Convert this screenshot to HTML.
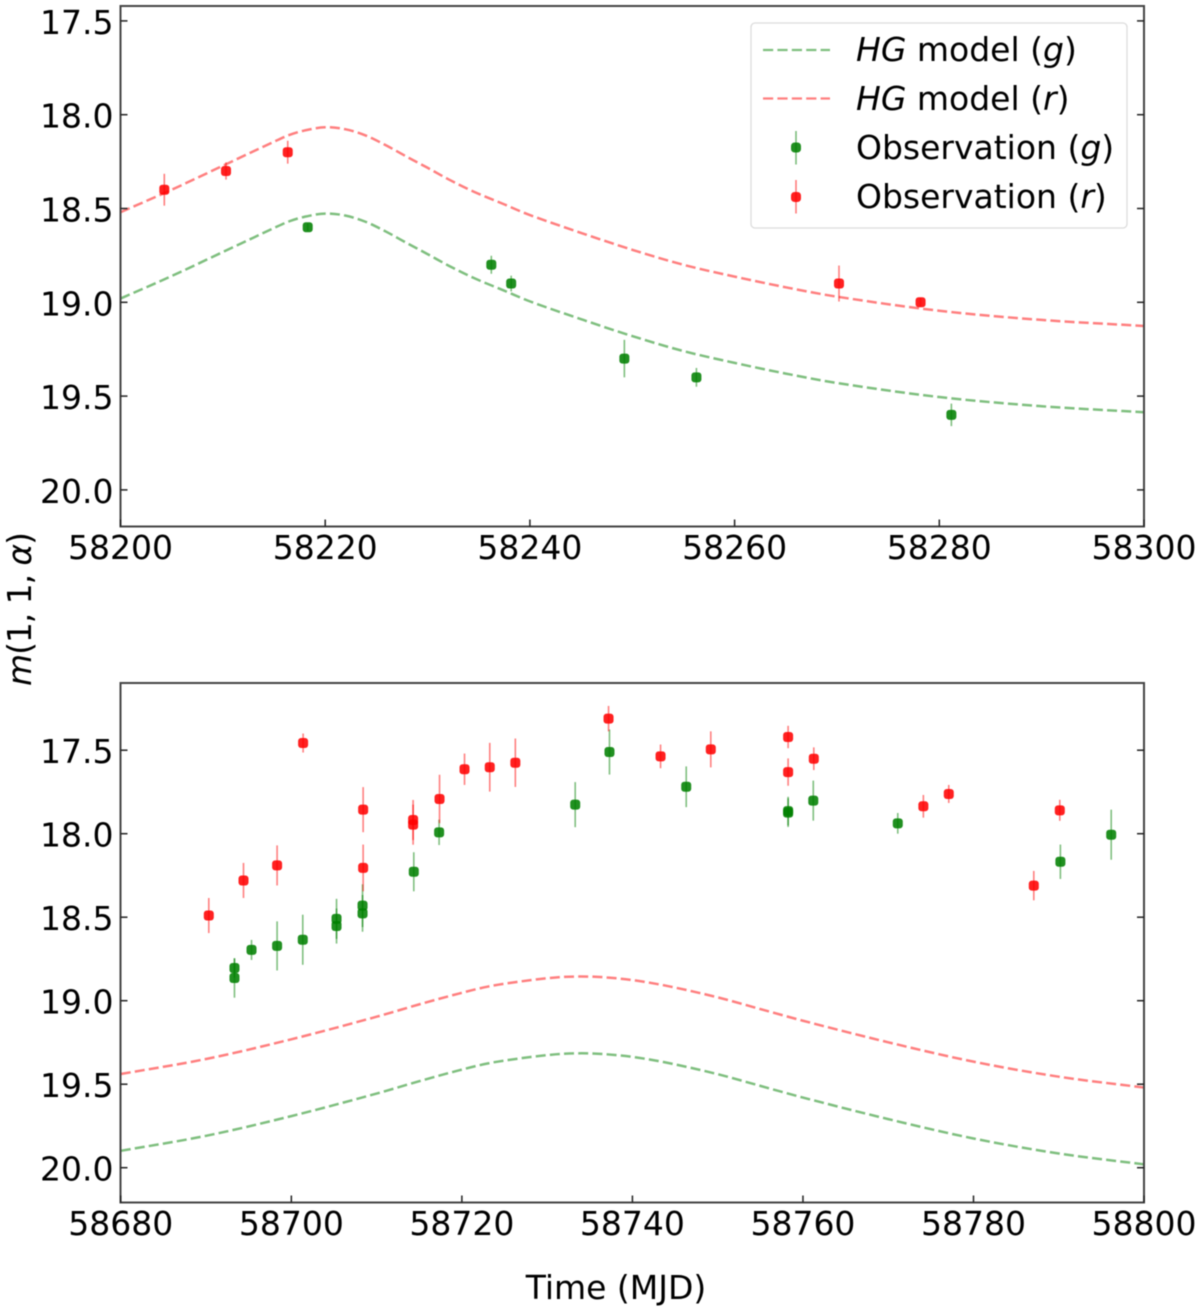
<!DOCTYPE html>
<html lang="en">
<head>
<meta charset="utf-8">
<title>Phase-curve observations and HG model</title>
<style>
html,body{margin:0;padding:0;background:#fff;width:1200px;height:1311px;overflow:hidden}
svg{display:block;filter:blur(.45px)}
text{font-family:"DejaVu Sans","Liberation Sans",sans-serif;font-size:33px;fill:#000}
</style>
</head>
<body>
<svg id="chart" xmlns="http://www.w3.org/2000/svg" width="1200" height="1311" viewBox="0 0 1200 1311">
  <rect x="0" y="0" width="1200" height="1311" fill="#fff"/>
  <defs>
    <clipPath id="clip-top"><rect x="120.5" y="6" width="1023.5" height="520.5"/></clipPath>
    <clipPath id="clip-bottom"><rect x="120.5" y="683" width="1023.5" height="519.5"/></clipPath>
  </defs>
  <g id="panel-top"></g>
  <g id="panel-bottom"></g>

  <text transform="translate(31,609) rotate(-90)" text-anchor="middle" textLength="154" lengthAdjust="spacing"><tspan font-style="italic">m</tspan>(1, 1, <tspan font-style="italic">α</tspan>)</text>
  <text x="616" y="1299" text-anchor="middle">Time (MJD)</text>

  <g>
    <rect x="751" y="23" width="376" height="205" rx="4" ry="4" fill="#fff" fill-opacity=".8" stroke="#dcdcdc" stroke-width="1.3"/>
    <g>
      <line x1="763" x2="830" y1="50" y2="50" stroke="#008000" stroke-opacity=".5" stroke-width="2.3" stroke-dasharray="10.2 4.2"/>
      <text x="856" y="61"><tspan font-style="italic">HG</tspan> model (<tspan font-style="italic">g</tspan>)</text>
    </g>
    <g>
      <line x1="763" x2="830" y1="98.5" y2="98.5" stroke="#ff0000" stroke-opacity=".5" stroke-width="2.3" stroke-dasharray="10.2 4.2"/>
      <text x="856" y="110"><tspan font-style="italic">HG</tspan> model (<tspan font-style="italic">r</tspan>)</text>
    </g>
    <g>
      <line x1="796" x2="796" y1="131" y2="164.5" stroke="#008000" stroke-opacity=".55" stroke-width="1.5"/>
      <rect x="791" y="142.5" width="10" height="10" rx="3.5" fill="#008000" fill-opacity=".87"/>
      <text x="856" y="159">Observation (<tspan font-style="italic">g</tspan>)</text>
    </g>
    <g>
      <line x1="796" x2="796" y1="180" y2="213.5" stroke="#ff0000" stroke-opacity=".55" stroke-width="1.5"/>
      <rect x="791" y="192" width="10" height="10" rx="3.5" fill="#ff0000" fill-opacity=".87"/>
      <text x="856" y="208">Observation (<tspan font-style="italic">r</tspan>)</text>
    </g>
  </g>
</svg>

<script>
// ---------- top panel data ----------
const topXTicks = [58200, 58220, 58240, 58260, 58280, 58300];
const topYTicks = [17.5, 18.0, 18.5, 19.0, 19.5, 20.0];
const topModelX = [58200, 58205, 58210, 58213, 58215, 58216.5, 58218, 58220, 58222, 58224, 58226, 58228, 58230, 58232, 58234.5, 58237.5, 58240, 58245, 58250, 58255, 58260, 58265, 58270, 58280, 58290, 58300];
const topModelR = [18.52, 18.40, 18.272, 18.195, 18.144, 18.108, 18.084, 18.067, 18.078, 18.112, 18.165, 18.225, 18.283, 18.343, 18.41, 18.478, 18.535, 18.63, 18.72, 18.80, 18.863, 18.92, 18.97, 19.045, 19.094, 19.126];
const topModelG = [18.98, 18.86, 18.732, 18.655, 18.604, 18.568, 18.544, 18.527, 18.538, 18.572, 18.625, 18.685, 18.743, 18.803, 18.87, 18.938, 18.995, 19.09, 19.18, 19.26, 19.323, 19.38, 19.43, 19.505, 19.554, 19.586];
const topObsRX = [58204.28, 58210.31, 58216.34, 58270.2, 58278.17];
const topObsRY = [18.40, 18.30, 18.20, 18.90, 19.00];
const topObsRErr = [0.085, 0.046, 0.061, 0.096, 0.025];
const topObsGX = [58218.29, 58236.23, 58238.17, 58249.23, 58256.27, 58281.18];
const topObsGY = [18.60, 18.80, 18.90, 19.30, 19.40, 19.60];
const topObsGErr = [0.02, 0.048, 0.042, 0.10, 0.05, 0.06];

// ---------- bottom panel data ----------
const botXTicks = [58680, 58700, 58720, 58740, 58760, 58780, 58800];
const botYTicks = [17.5, 18.0, 18.5, 19.0, 19.5, 20.0];
const botModelX = [58680, 58690, 58700, 58710, 58715, 58719, 58723, 58727, 58731, 58734, 58737, 58740.5, 58744.5, 58750, 58755, 58760, 58770, 58780, 58790, 58800];
const botModelR = [19.439, 19.349, 19.231, 19.096, 19.022, 18.966, 18.916, 18.884, 18.861, 18.855, 18.861, 18.88, 18.916, 18.98, 19.05, 19.12, 19.249, 19.365, 19.455, 19.52];
const botModelG = [19.899, 19.809, 19.691, 19.556, 19.482, 19.426, 19.376, 19.344, 19.321, 19.315, 19.321, 19.34, 19.376, 19.44, 19.51, 19.58, 19.709, 19.825, 19.915, 19.98];
const botObsRX = [58690.32, 58694.39, 58698.33, 58701.38, 58708.42, 58708.42, 58714.28, 58714.28, 58717.38, 58720.31, 58723.27, 58726.27, 58737.2, 58743.3, 58749.19, 58758.26, 58758.26, 58761.27, 58774.12, 58777.1, 58787.07, 58790.12];
const botObsRY = [18.49, 18.28, 18.19, 17.457, 17.856, 18.205, 17.918, 17.946, 17.792, 17.614, 17.602, 17.575, 17.311, 17.537, 17.495, 17.421, 17.631, 17.551, 17.836, 17.762, 18.311, 17.86];
const botObsRErr = [0.105, 0.105, 0.12, 0.057, 0.135, 0.14, 0.12, 0.12, 0.145, 0.094, 0.146, 0.145, 0.076, 0.071, 0.108, 0.067, 0.082, 0.068, 0.068, 0.054, 0.088, 0.063];
const botObsGX = [58693.33, 58693.33, 58695.33, 58698.33, 58701.34, 58705.3, 58705.3, 58708.35, 58708.35, 58714.36, 58717.33, 58733.29, 58737.31, 58746.31, 58758.26, 58758.26, 58761.21, 58771.12, 58790.19, 58796.15];
const botObsGY = [18.804, 18.864, 18.696, 18.672, 18.635, 18.51, 18.553, 18.431, 18.477, 18.228, 17.992, 17.826, 17.511, 17.719, 17.874, 17.865, 17.802, 17.938, 18.168, 18.006];
const botObsGErr = [0.058, 0.118, 0.06, 0.147, 0.15, 0.12, 0.105, 0.128, 0.11, 0.117, 0.076, 0.135, 0.135, 0.122, 0.086, 0.086, 0.12, 0.062, 0.103, 0.15];

const SVG_NS = 'http://www.w3.org/2000/svg';
function make(parent, tag, attrs) {
  const el = document.createElementNS(SVG_NS, tag);
  for (const k in attrs) el.setAttribute(k, attrs[k]);
  parent.appendChild(el);
  return el;
}
function smoothPath(xs, ys) {
  const n = xs.length;
  let d = 'M' + xs[0].toFixed(2) + ' ' + ys[0].toFixed(2);
  for (let i = 0; i < n - 1; i++) {
    const i0 = Math.max(0, i - 1), i3 = Math.min(n - 1, i + 2);
    const t1 = (xs[i + 1] - xs[i]) / (xs[i + 1] - xs[i0]) / 3;
    const t2 = (xs[i + 1] - xs[i]) / (xs[i3] - xs[i]) / 3;
    const c1x = xs[i] + (xs[i + 1] - xs[i0]) * t1;
    const c1y = ys[i] + (ys[i + 1] - ys[i0]) * t1;
    const c2x = xs[i + 1] - (xs[i3] - xs[i]) * t2;
    const c2y = ys[i + 1] - (ys[i3] - ys[i]) * t2;
    d += 'C' + c1x.toFixed(2) + ' ' + c1y.toFixed(2) + ' ' + c2x.toFixed(2) + ' ' + c2y.toFixed(2) + ' ' + xs[i + 1].toFixed(2) + ' ' + ys[i + 1].toFixed(2);
  }
  return d;
}

function drawPanel(root, clipId, box, sx, sy, xTicks, yTicks, modelX, modelR, modelG, obsRX, obsRY, obsRE, obsGX, obsGY, obsGE) {
  const plot = make(root, 'g', {'clip-path': 'url(#' + clipId + ')'});
  
  

  const px = modelX.map(sx);
  const lineG = make(plot, 'path', {d: smoothPath(px, modelG.map(sy)), fill: 'none', stroke: '#008000', 'stroke-opacity': .5, 'stroke-width': 2.5, 'stroke-dasharray': '10 4.2'});
  
  
  const lineR = make(plot, 'path', {d: smoothPath(px, modelR.map(sy)), fill: 'none', stroke: '#ff0000', 'stroke-opacity': .5, 'stroke-width': 2.5, 'stroke-dasharray': '10 4.2'});
  
  

  obsGX.forEach(function (x, i) {
    const bar = make(plot, 'line', {x1: sx(x), x2: sx(x), y1: sy(obsGY[i] - obsGE[i]), y2: sy(obsGY[i] + obsGE[i]), stroke: '#008000', 'stroke-opacity': .5, 'stroke-width': 1.6});
    
    
    const mark = make(plot, 'rect', {x: sx(x) - 5, y: sy(obsGY[i]) - 5, width: 10, height: 10, rx: 3, fill: '#008000', 'fill-opacity': .87});
    
    
  });
  obsRX.forEach(function (x, i) {
    const bar = make(plot, 'line', {x1: sx(x), x2: sx(x), y1: sy(obsRY[i] - obsRE[i]), y2: sy(obsRY[i] + obsRE[i]), stroke: '#ff0000', 'stroke-opacity': .5, 'stroke-width': 1.6});
    
    
    const mark = make(plot, 'rect', {x: sx(x) - 5, y: sy(obsRY[i]) - 5, width: 10, height: 10, rx: 3, fill: '#ff0000', 'fill-opacity': .87});
    
    
  });

  const frame = make(root, 'rect', {x: box.l, y: box.t, width: box.r - box.l, height: box.b - box.t, fill: 'none', stroke: '#444', 'stroke-width': 2});
  
  

  xTicks.forEach(function (v) {
    const t = make(root, 'line', {x1: sx(v), x2: sx(v), y1: box.b, y2: box.b - 7, stroke: '#222', 'stroke-width': 1.5});
    
    
    const lab = make(root, 'text', {x: sx(v), y: box.b + 32.3, 'text-anchor': 'middle'});
    
    
    lab.textContent = String(v);
  });
  yTicks.forEach(function (v) {
    const l = make(root, 'line', {x1: box.l, x2: box.l + 7, y1: sy(v), y2: sy(v), stroke: '#222', 'stroke-width': 1.5});
    
    
    const r = make(root, 'line', {x1: box.r, x2: box.r - 7, y1: sy(v), y2: sy(v), stroke: '#222', 'stroke-width': 1.5});
    
    
    const lab = make(root, 'text', {x: box.l - 7, y: sy(v) + 13, 'text-anchor': 'end'});
    
    
    lab.textContent = v.toFixed(1);
  });
}

function topSX(v) { return 120.5 + (v - 58200) * 10.235; }
function topSY(v) { return 302.3 + (v - 19) * 187.6; }
function botSX(v) { return 120.8 + (v - 58680) * 8.527; }
function botSY(v) { return 833.7 + (v - 18) * 167; }

drawPanel(document.getElementById('panel-top'), 'clip-top', {l: 120.5, r: 1144, t: 6, b: 526.5}, topSX, topSY,
  topXTicks, topYTicks, topModelX, topModelR, topModelG, topObsRX, topObsRY, topObsRErr, topObsGX, topObsGY, topObsGErr);
drawPanel(document.getElementById('panel-bottom'), 'clip-bottom', {l: 120.5, r: 1144, t: 683, b: 1202.5}, botSX, botSY,
  botXTicks, botYTicks, botModelX, botModelR, botModelG, botObsRX, botObsRY, botObsRErr, botObsGX, botObsGY, botObsGErr);
</script>
</body>
</html>
